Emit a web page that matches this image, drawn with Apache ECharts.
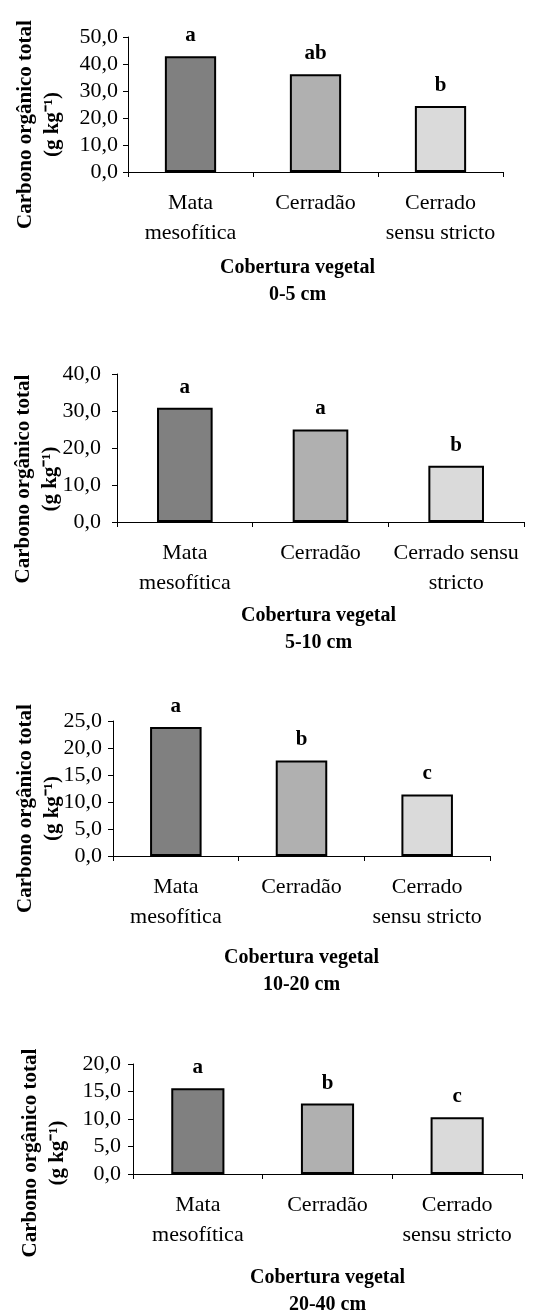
<!DOCTYPE html>
<html>
<head>
<meta charset="utf-8">
<script src="https://cdn.jsdelivr.net/npm/echarts@6/dist/echarts.min.js"></script>
<style>
  html, body { margin: 0; padding: 0; background: #fff; }
  #chart { width: 536px; height: 1313px; }
</style>
</head>
<body>
<div id="chart"></div>
<script>
// categories (line breaks as in the figure)
var categoriesA = ['Mata\nmesofítica', 'Cerradão', 'Cerrado\nsensu stricto'];
var categoriesB = ['Mata\nmesofítica', 'Cerradão', 'Cerrado sensu\nstricto'];
var depths = ['0-5 cm', '5-10 cm', '10-20 cm', '20-40 cm'];

// carbono orgânico total (g kg-1) per depth
var carbon0_5 = [42.9, 36.2, 24.4];
var carbon5_10 = [30.9, 25.0, 15.2];
var carbon10_20 = [23.9, 17.7, 11.4];
var carbon20_40 = [15.6, 12.8, 10.3];

// significance letters
var letters0_5 = ['a', 'ab', 'b'];
var letters5_10 = ['a', 'a', 'b'];
var letters10_20 = ['a', 'b', 'c'];
var letters20_40 = ['a', 'b', 'c'];

// y axis ticks
var yMax = [50, 40, 25, 20];
var yStep = [10, 10, 5, 5];

var panels = [
  { cats: categoriesA, vals: carbon0_5, letters: letters0_5 },
  { cats: categoriesB, vals: carbon5_10, letters: letters5_10 },
  { cats: categoriesA, vals: carbon10_20, letters: letters10_20 },
  { cats: categoriesA, vals: carbon20_40, letters: letters20_40 }
];

// layout of each panel (pixels)
var layout = [
  { left: 128, top: 37, width: 375, height: 135, yGap: 62, yShift: 20, labelMargin: 10, xGap: 82, xShift: 18 },
  { left: 117, top: 374, width: 407, height: 148, yGap: 53, yShift: 31, labelMargin: 16, xGap: 80, xShift: 2 },
  { left: 113, top: 721, width: 377, height: 135, yGap: 47, yShift: 20, labelMargin: 11, xGap: 88, xShift: 0 },
  { left: 133, top: 1064, width: 389, height: 110, yGap: 62, yShift: 34, labelMargin: 12, xGap: 90, xShift: 0 }
];

var barColors = ['#808080', '#b0b0b0', '#dadada'];
var serif = '"Liberation Serif", "Times New Roman", serif';

var chart = echarts.init(document.getElementById('chart'));

var grids = [], xAxes = [], yAxes = [], series = [];
panels.forEach(function (p, i) {
  var L = layout[i];
  grids.push({
    left: L.left, top: L.top, width: L.width, height: L.height,
    containLabel: false, outerBoundsMode: 'none'
  });
  xAxes.push({
    type: 'category',
    gridIndex: i,
    data: p.cats,
    name: 'Cobertura vegetal\n' + depths[i],
    nameLocation: 'middle',
    nameGap: L.xGap,
    nameMoveOverlap: false,
    nameTextStyle: {
      fontFamily: serif, fontWeight: 'bold', fontSize: 20, lineHeight: 27, color: '#000',
      padding: [0, L.xShift * 2, 0, 0]
    },
    axisLine: { show: true, lineStyle: { color: '#000', width: 1 } },
    axisTick: { show: true, length: 5, lineStyle: { color: '#000' } },
    axisLabel: { interval: 0, margin: 16, fontFamily: serif, fontSize: 22, lineHeight: 30, color: '#000' },
    splitLine: { show: false }
  });
  yAxes.push({
    type: 'value',
    gridIndex: i,
    min: 0,
    max: yMax[i],
    interval: yStep[i],
    name: 'Carbono orgânico total\n(g kg\u207B\u00B9)',
    nameLocation: 'middle',
    nameRotate: 90,
    nameGap: L.yGap,
    nameMoveOverlap: false,
    nameTextStyle: {
      fontFamily: serif, fontWeight: 'bold', fontSize: 21, lineHeight: 27, color: '#000',
      padding: [0, L.yShift * 2, 0, 0]
    },
    axisLine: { show: true, lineStyle: { color: '#000', width: 1 } },
    axisTick: { show: true, length: 5, lineStyle: { color: '#000' } },
    axisLabel: {
      margin: L.labelMargin, fontFamily: serif, fontSize: 22, color: '#000',
      showMinLabel: true, showMaxLabel: true, hideOverlap: false,
      formatter: function (v) { return v.toFixed(1).replace('.', ','); }
    },
    splitLine: { show: false }
  });
  series.push({
    type: 'bar',
    xAxisIndex: i,
    yAxisIndex: i,
    barWidth: '41%',
    data: p.vals.map(function (v, j) {
      return { value: v, itemStyle: { color: barColors[j] } };
    }),
    itemStyle: { borderColor: '#000', borderWidth: 2 },
    label: {
      show: true,
      position: 'top',
      distance: 10,
      fontFamily: serif,
      fontWeight: 'bold',
      fontSize: 21,
      color: '#000',
      formatter: function (params) { return p.letters[params.dataIndex]; }
    },
    silent: true
  });
});

chart.setOption({
  backgroundColor: '#fff',
  animation: false,
  grid: grids,
  xAxis: xAxes,
  yAxis: yAxes,
  series: series
});
</script>
</body>
</html>
